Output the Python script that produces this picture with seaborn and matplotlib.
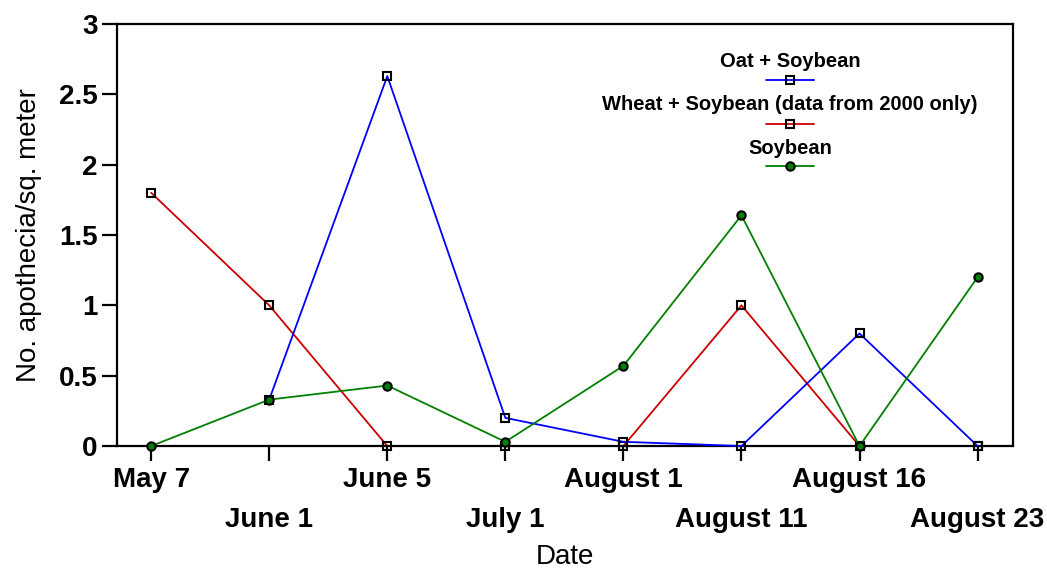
import numpy as np
import pandas as pd
import seaborn as sns
from matplotlib import pyplot as plt
from matplotlib.lines import Line2D

# Data
dates = ["May 7", "June 1", "June 5", "July 1",
         "August 1", "August 11", "August 16", "August 23"]
oat_soybean = [np.nan, 0.33, 2.63, 0.20, 0.03, 0.0, 0.80, 0.0]
wheat_soybean = [1.80, 1.00, 0.0, 0.0, 0.0, 1.00, 0.0, 0.0]
soybean = [0.0, 0.33, 0.43, 0.03, 0.57, 1.64, 0.0, 1.20]

series_names = ["Oat + Soybean",
                "Wheat + Soybean (data from 2000 only)",
                "Soybean"]
colors = {"Oat + Soybean": "#0000ff",
          "Wheat + Soybean (data from 2000 only)": "#cc0000",
          "Soybean": "#008000"}

sns.set_theme(style="ticks")
plt.rcParams["font.family"] = ["Liberation Sans", "DejaVu Sans"]
plt.rcParams["text.color"] = "black"
plt.rcParams["axes.labelcolor"] = "black"

pos = np.arange(len(dates))
df = pd.DataFrame({
    "pos": np.tile(pos, 3),
    "value": oat_soybean + wheat_soybean + soybean,
    "series": np.repeat(series_names, len(dates)),
})

fig = plt.figure(figsize=(10.47, 5.73), dpi=100)
ax = fig.add_axes([0.1117, 0.2216, 0.8558, 0.7365])

styles = {
    "Oat + Soybean": dict(marker="s", markerfacecolor="none",
                          markeredgecolor="black", markersize=6, zorder=3),
    "Wheat + Soybean (data from 2000 only)": dict(marker="s", markerfacecolor="none",
                                                  markeredgecolor="black",
                                                  markersize=6, zorder=2),
    "Soybean": dict(marker="o", markerfacecolor="#008000",
                    markeredgecolor="black", markersize=6, zorder=4),
}

for name in ["Wheat + Soybean (data from 2000 only)", "Oat + Soybean", "Soybean"]:
    sub = df[df["series"] == name].dropna()
    sns.lineplot(data=sub, x="pos", y="value", ax=ax, color=colors[name],
                 linewidth=1.3, markeredgewidth=1.5, clip_on=False,
                 legend=False, **styles[name])

ax.set_xlim(-0.29, len(dates) - 1 + 0.3)
ax.set_ylim(0, 3)
ax.set_yticks([0, 0.5, 1, 1.5, 2, 2.5, 3])
ax.set_yticklabels(["0", "0.5", "1", "1.5", "2", "2.5", "3"])
ax.set_xticks(pos)
ax.set_xticklabels(dates)

for sp in ax.spines.values():
    sp.set_linewidth(1.6)
    sp.set_color("black")

ax.tick_params(axis="both", direction="out", length=11, width=1.6,
               labelsize=20, colors="black")
for lbl in ax.get_xticklabels() + ax.get_yticklabels():
    lbl.set_fontweight("bold")
ax.tick_params(axis="x", pad=4)
ax.tick_params(axis="y", pad=3)
for i, t in enumerate(ax.xaxis.get_major_ticks()):
    if i % 2 == 1:
        t.set_pad(33)

ax.set_xlabel("Date", fontsize=20, labelpad=8, color="black")
ax.set_ylabel("No. apothecia/sq. meter", fontsize=20, labelpad=12, color="black")

# Legend: label above each handle, centred
leg_x = 0.751
text_y = [0.910, 0.810, 0.706]
line_y = [0.867, 0.763, 0.664]
half = 0.027
for name, ty, ly in zip(series_names, text_y, line_y):
    ax.text(leg_x, ty, name, transform=ax.transAxes, ha="center", va="center",
            fontsize=14.5, fontweight="bold", color="black")
    ax.add_line(Line2D([leg_x - half, leg_x + half], [ly, ly],
                       transform=ax.transAxes, color=colors[name], linewidth=1.3))
    st = styles[name]
    ax.add_line(Line2D([leg_x], [ly], transform=ax.transAxes, linestyle="none",
                       marker=st["marker"], markerfacecolor=st["markerfacecolor"],
                       markeredgecolor="black", markersize=6, markeredgewidth=1.5))

fig.savefig("out.png", dpi=100)
